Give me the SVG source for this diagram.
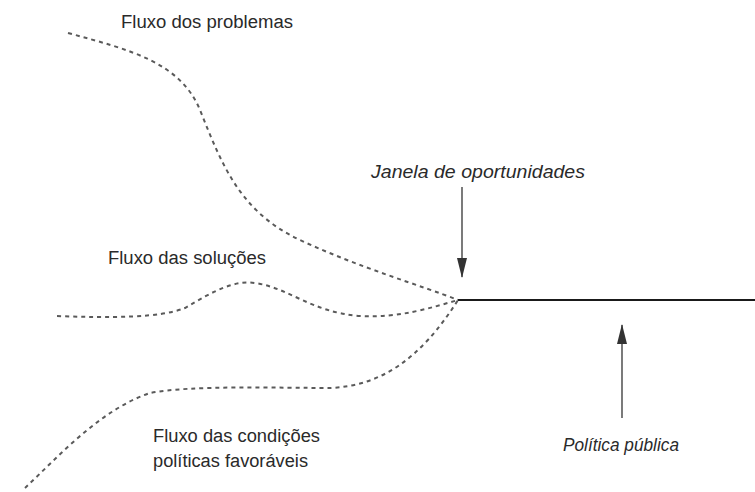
<svg xmlns="http://www.w3.org/2000/svg" width="755" height="492" viewBox="0 0 755 492">
<defs>
<style>
.lbl{font-family:"Liberation Sans Narrow","Liberation Sans",Arial,sans-serif;font-size:18px;fill:#2a2a2a}
.it{font-style:italic}
.flow{fill:none;stroke:#5a5a5a;stroke-width:2;stroke-dasharray:4 4}
.arr{fill:none;stroke:#333;stroke-width:1.3}
</style>
<marker id="ah" markerWidth="20" markerHeight="10" refX="19" refY="5" orient="auto" markerUnits="userSpaceOnUse" viewBox="0 0 20 10">
<path d="M0,0 L20,5 L0,10 Z" fill="#333"/>
</marker>
</defs>
<rect width="755" height="492" fill="#fff"/>
<g id="connectors">
<path id="flow-problemas" class="flow" d="M68,33 C130,50 180,62 200,110 C222,165 240,212 300,240 C360,268 420,285 458,300"/>
<path id="flow-solucoes" class="flow" d="M57,316 C110,318 160,318 185,308 C215,290 235,280 255,283 C290,288 310,312 360,316 C400,318 430,308 458,300"/>
<path id="flow-condicoes" class="flow" d="M25,488 C60,455 100,410 150,393 C190,385 280,388 330,388 C380,386 420,360 458,300"/>
<line id="politica-line" x1="458" y1="300" x2="755" y2="300" stroke="#1a1a1a" stroke-width="2.2"/>
<line id="arrow-janela" class="arr" x1="462" y1="187" x2="462" y2="277" marker-end="url(#ah)"/>
<line id="arrow-politica" class="arr" x1="622" y1="418" x2="622" y2="325" marker-end="url(#ah)"/>
</g>
<g id="label-problemas"><text class="lbl" x="121" y="28" textLength="172" lengthAdjust="spacingAndGlyphs">Fluxo dos problemas</text></g>
<g id="label-solucoes"><text class="lbl" x="108" y="264" textLength="158" lengthAdjust="spacingAndGlyphs">Fluxo das soluções</text></g>
<g id="label-condicoes"><text class="lbl" x="153" y="442" textLength="167" lengthAdjust="spacingAndGlyphs">Fluxo das condições</text><text class="lbl" x="153" y="467" textLength="155" lengthAdjust="spacingAndGlyphs">políticas favoráveis</text></g>
<g id="label-janela"><text class="lbl it" x="371" y="178" textLength="214" lengthAdjust="spacingAndGlyphs">Janela de oportunidades</text></g>
<g id="label-politica"><text class="lbl it" x="563" y="451" textLength="116" lengthAdjust="spacingAndGlyphs">Política pública</text></g>
</svg>
